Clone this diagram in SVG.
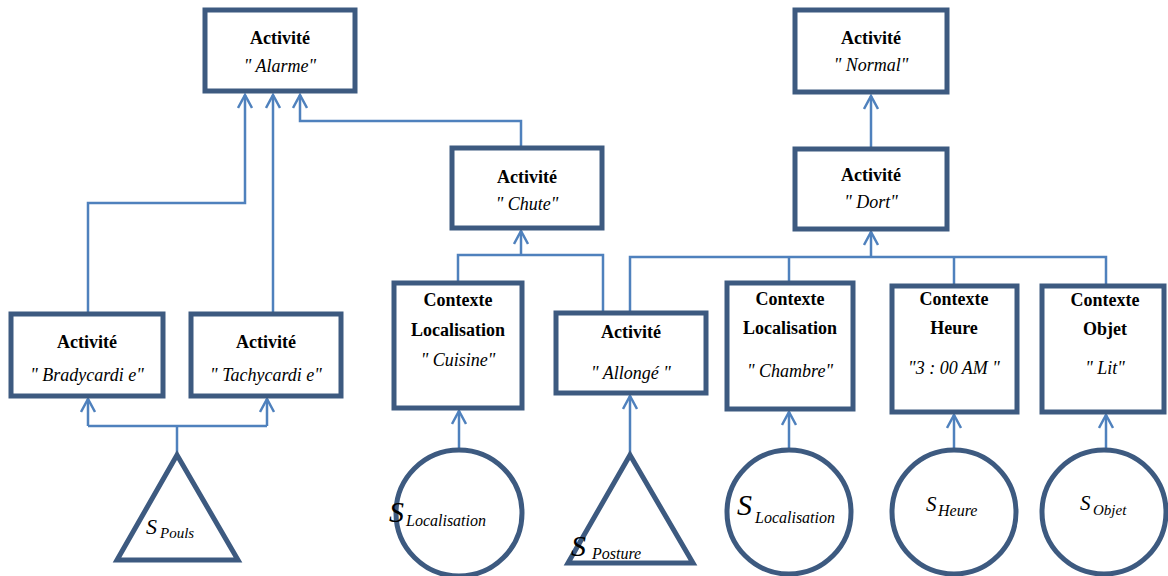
<svg xmlns="http://www.w3.org/2000/svg" width="1168" height="576" viewBox="0 0 1168 576">
<style>
.box{fill:#fff;stroke:#3d5a80;stroke-width:5}
.sh{fill:#fff;stroke:#3d5a80;stroke-width:5;stroke-linejoin:miter}
.c{fill:none;stroke:#4f81bd;stroke-width:2.5}
.b{font-family:'Liberation Serif','Times New Roman',serif;font-weight:bold;font-size:18px;text-anchor:middle;fill:#000}
.i{font-family:'Liberation Serif','Times New Roman',serif;font-style:italic;font-size:18px;text-anchor:middle;fill:#000}
.s{font-family:'Liberation Serif','Times New Roman',serif;font-style:italic;fill:#000}
</style>
<defs>
<marker id="ah" viewBox="0 0 16 16" markerWidth="16" markerHeight="16" refX="14" refY="8" orient="auto" markerUnits="userSpaceOnUse">
<path d="M1,1 L14,8 L1,15" fill="none" stroke="#4f81bd" stroke-width="2.5"/>
</marker>
</defs>
<rect width="1168" height="576" fill="#fff"/>
<g id="connectors">
<path class="c" d="M88,313 V203 H245 V95" marker-end="url(#ah)"/>
<path class="c" d="M273,313 V95" marker-end="url(#ah)"/>
<path class="c" d="M521,148 V121 H300 V95" marker-end="url(#ah)"/>
<path class="c" d="M871,148 V96" marker-end="url(#ah)"/>
<path class="c" d="M458,282 V255 H603 V312"/>
<path class="c" d="M521,255 V231" marker-end="url(#ah)"/>
<path class="c" d="M630,312 V257 H1106 V285"/>
<path class="c" d="M789,282 V257"/>
<path class="c" d="M954,285 V257"/>
<path class="c" d="M871,257 V232" marker-end="url(#ah)"/>
<path class="c" d="M88,426 H267"/>
<path class="c" d="M88,426 V399" marker-end="url(#ah)"/>
<path class="c" d="M267,426 V399" marker-end="url(#ah)"/>
<path class="c" d="M177,453 V426"/>
<path class="c" d="M459,449 V411" marker-end="url(#ah)"/>
<path class="c" d="M630,455 V396" marker-end="url(#ah)"/>
<path class="c" d="M789,450 V412" marker-end="url(#ah)"/>
<path class="c" d="M954,450 V415" marker-end="url(#ah)"/>
<path class="c" d="M1106,450 V415" marker-end="url(#ah)"/>
</g>
<g id="alarme"><rect class="box" x="205" y="10" width="150" height="81"/>
<text class="b" x="280" y="44">Activité</text><text class="i" x="280" y="72">" Alarme"</text></g>
<g id="chute"><rect class="box" x="452" y="148" width="150" height="80"/>
<text class="b" x="527" y="183">Activité</text><text class="i" x="527" y="210">" Chute"</text></g>
<g id="normal"><rect class="box" x="795" y="10" width="152" height="82"/>
<text class="b" x="871" y="44">Activité</text><text class="i" x="871" y="71">" Normal"</text></g>
<g id="dort"><rect class="box" x="795" y="149" width="152" height="80"/>
<text class="b" x="871" y="181">Activité</text><text class="i" x="871" y="208">" Dort"</text></g>
<g id="bradycardie"><rect class="box" x="11" y="314" width="152" height="82"/>
<text class="b" x="87" y="348">Activité</text><text class="i" x="87" y="381">" Bradycardi e"</text></g>
<g id="tachycardie"><rect class="box" x="191" y="314" width="150" height="82"/>
<text class="b" x="266" y="348">Activité</text><text class="i" x="266" y="381">" Tachycardi e"</text></g>
<g id="cuisine"><rect class="box" x="394" y="283" width="128" height="125"/>
<text class="b" x="458" y="306">Contexte</text><text class="b" x="458" y="336">Localisation</text><text class="i" x="458" y="366">" Cuisine"</text></g>
<g id="allonge"><rect class="box" x="556" y="313" width="150" height="80"/>
<text class="b" x="631" y="338">Activité</text><text class="i" x="631" y="379">" Allongé "</text></g>
<g id="chambre"><rect class="box" x="727" y="283" width="126" height="126"/>
<text class="b" x="790" y="305">Contexte</text><text class="b" x="790" y="334">Localisation</text><text class="i" x="790" y="377">" Chambre"</text></g>
<g id="heure"><rect class="box" x="892" y="286" width="125" height="126"/>
<text class="b" x="954" y="305">Contexte</text><text class="b" x="954" y="334">Heure</text><text class="i" x="954" y="374">"3 : 00 AM "</text></g>
<g id="objet"><rect class="box" x="1042" y="286" width="122" height="126"/>
<text class="b" x="1105" y="306">Contexte</text><text class="b" x="1105" y="335">Objet</text><text class="i" x="1105" y="374">" Lit"</text></g>
<g id="s-pouls"><polygon class="sh" points="177,455 238,560 117,560"/>
<text class="s" x="146" y="534" font-size="22">S</text><text class="s" x="160" y="538" font-size="15">Pouls</text></g>
<g id="s-localisation-1"><circle class="sh" cx="459" cy="513" r="63"/>
<text class="s" x="389" y="522" font-size="30">S</text><text class="s" x="406" y="526" font-size="16">Localisation</text></g>
<g id="s-posture"><polygon class="sh" points="630,455 693,563 568,563"/>
<text class="s" x="571" y="556" font-size="30">S</text><text class="s" x="592" y="559" font-size="16">Posture</text></g>
<g id="s-localisation-2"><circle class="sh" cx="789" cy="512" r="62"/>
<text class="s" x="737" y="515" font-size="30">S</text><text class="s" x="755" y="523" font-size="16">Localisation</text></g>
<g id="s-heure"><circle class="sh" cx="954" cy="512" r="62"/>
<text class="s" x="926" y="511" font-size="21">S</text><text class="s" x="938" y="516" font-size="16">Heure</text></g>
<g id="s-objet"><circle class="sh" cx="1104" cy="512" r="62"/>
<text class="s" x="1080" y="510" font-size="21">S</text><text class="s" x="1093" y="515" font-size="15">Objet</text></g>
</svg>
